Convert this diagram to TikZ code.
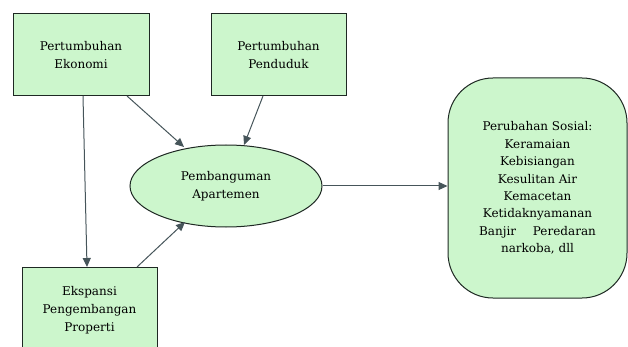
\documentclass[tikz,border=0pt]{standalone}
\usepackage{fontspec}
\setmainfont{DejaVu Serif}
\usetikzlibrary{arrows.meta,shapes.geometric}
\definecolor{boxfill}{RGB}{204,246,204}
\definecolor{edgecol}{RGB}{30,40,35}
\definecolor{arrcol}{RGB}{70,85,90}
\begin{document}
\begin{tikzpicture}[x=1pt,y=-1pt,
  txt/.style={font=\fontsize{12}{18}\selectfont, align=center, text=black},
  sqbox/.style={txt, draw=edgecol, line width=1pt, fill=boxfill, inner sep=0pt},
  ovalbox/.style={txt, ellipse, draw=edgecol, line width=1pt, fill=boxfill, minimum width=192pt, minimum height=82pt, inner sep=0pt},
  softbox/.style={txt, rounded corners=45pt, draw=edgecol, line width=1pt, fill=boxfill, inner sep=0pt, font=\fontsize{12}{17.4}\selectfont},
  conn/.style={draw=arrcol, line width=1pt, -{Triangle[length=9pt,width=8pt]}}]
\useasboundingbox (0,0) rectangle (628,347);
\node[sqbox, minimum width=136pt, minimum height=82pt] (eko) at (81,55) {Pertumbuhan\\Ekonomi};
\node[sqbox, minimum width=135pt, minimum height=82pt] (pend) at (278.5,55) {Pertumbuhan\\Penduduk};
\node[ovalbox] (apt) at (226,186) {Pembanguman\\Apartemen};
\node[sqbox, minimum width=135pt, minimum height=86pt] (eksp) at (89.5,310) {Ekspansi\\Pengembangan\\Properti};
\node[softbox, minimum width=179pt, minimum height=220pt] (sos) at (537.5,188) {Perubahan Sosial:\\Keramaian\\Kebisiangan\\Kesulitan Air\\Kemacetan\\Ketidaknyamanan\\Banjir\hspace{1.4em}Peredaran\\narkoba, dll};
\coordinate (e1) at (83,96);
\coordinate (e2) at (87,267);
\draw[conn] (e1) -- (e2);
\coordinate (e3) at (127,96);
\coordinate (e4) at (184,147);
\draw[conn] (e3) -- (e4);
\coordinate (p1) at (263,96);
\coordinate (p2) at (244,145);
\draw[conn] (p1) -- (p2);
\coordinate (x1) at (137,267);
\coordinate (x2) at (185,222);
\draw[conn] (x1) -- (x2);
\draw[conn] (apt.east) -- (apt.east -| sos.west);
\end{tikzpicture}
\end{document}
